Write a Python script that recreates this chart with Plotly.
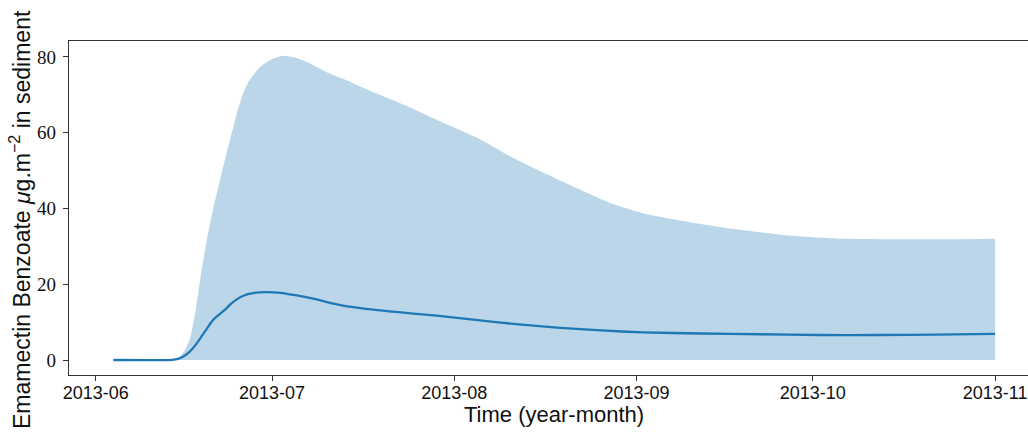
import plotly.graph_objects as go

# Upper bound of the sediment concentration envelope (lower bound is zero)
upper_dates = [
    "2013-06-04", "2013-06-14", "2013-06-15", "2013-06-16", "2013-06-17",
    "2013-06-18", "2013-06-19", "2013-06-20", "2013-06-21", "2013-06-22",
    "2013-06-23", "2013-06-24", "2013-06-25", "2013-06-26", "2013-06-27",
    "2013-06-29", "2013-07-01", "2013-07-03", "2013-07-05", "2013-07-07",
    "2013-07-10", "2013-07-13", "2013-07-16", "2013-07-19", "2013-07-24",
    "2013-07-30", "2013-08-05", "2013-08-10", "2013-08-16", "2013-08-22",
    "2013-08-28", "2013-09-03", "2013-09-10", "2013-09-18", "2013-09-26",
    "2013-10-05", "2013-10-15", "2013-10-25", "2013-11-01",
]
upper_vals = [
    0.0, 0.0, 0.4, 2.2, 5.5,
    13.0, 23.5, 32.5, 40.0, 46.5,
    53.0, 59.0, 65.0, 70.0, 73.5,
    77.4, 79.4, 80.3, 79.8, 78.6,
    76.2, 74.3, 72.2, 70.2, 67.0,
    62.7, 58.6, 54.2, 49.6, 45.3,
    41.2, 38.4, 36.4, 34.5, 33.0,
    32.1, 31.9, 31.9, 32.0,
]

# Mean sediment concentration
mean_dates = [
    "2013-06-04", "2013-06-14", "2013-06-15", "2013-06-16", "2013-06-17",
    "2013-06-18", "2013-06-19", "2013-06-20", "2013-06-21", "2013-06-22",
    "2013-06-23", "2013-06-24", "2013-06-25", "2013-06-26", "2013-06-28",
    "2013-06-30", "2013-07-02", "2013-07-05", "2013-07-08", "2013-07-12",
    "2013-07-16", "2013-07-22", "2013-07-29", "2013-08-05", "2013-08-12",
    "2013-08-19", "2013-08-26", "2013-09-02", "2013-09-12", "2013-09-22",
    "2013-10-02", "2013-10-12", "2013-10-22", "2013-11-01",
]
mean_vals = [
    0.0, 0.05, 0.3, 1.0, 2.2,
    4.0, 6.2, 8.5, 10.6, 12.0,
    13.3, 14.8, 16.0, 16.9, 17.7,
    17.9, 17.8, 17.1, 16.2, 14.7,
    13.7, 12.7, 11.7, 10.5, 9.4,
    8.5, 7.8, 7.3, 7.0, 6.8,
    6.6, 6.6, 6.7, 6.9,
]

x_tick_vals = ["2013-06-01", "2013-07-01", "2013-08-01",
               "2013-09-01", "2013-10-01", "2013-11-01"]
x_tick_text = ["2013-06", "2013-07", "2013-08", "2013-09", "2013-10", "2013-11"]
y_tick_vals = [0, 20, 40, 60, 80]

BLUE = "#1f77b4"
SANS = "Liberation Sans, Arial, sans-serif"
SERIF = "Liberation Serif, Times New Roman, serif"

fig = go.Figure()

fig.add_trace(go.Scatter(
    x=upper_dates, y=upper_vals,
    mode="lines",
    fill="tozeroy",
    fillcolor="rgba(31,119,180,0.3)",
    line=dict(width=0, shape="spline", smoothing=0.6, color="rgba(31,119,180,0)"),
    hoverinfo="skip",
    showlegend=False,
))

fig.add_trace(go.Scatter(
    x=mean_dates, y=mean_vals,
    mode="lines",
    line=dict(color=BLUE, width=2.3, shape="spline", smoothing=0.6),
    showlegend=False,
))

fig.update_layout(
    width=1028, height=432,
    margin=dict(l=69, r=0, t=41, b=57),
    paper_bgcolor="white",
    plot_bgcolor="white",
    showlegend=False,
    xaxis=dict(
        type="date",
        range=["2013-05-27 11:00", "2013-11-06 14:24"],
        tickmode="array",
        tickvals=x_tick_vals,
        ticktext=x_tick_text,
        ticks="outside", ticklen=5, tickwidth=1, tickcolor="#333",
        showgrid=False, zeroline=False,
        showline=True, linecolor="#333", linewidth=1.2, mirror=True,
        tickfont=dict(family=SANS, size=18, color="#111"),
        ticklabeloverflow="allow",
        ticklabelstandoff=-4,
    ),
    yaxis=dict(
        range=[-3.96, 84.22],
        tickmode="array",
        tickvals=y_tick_vals,
        ticks="outside", ticklen=5, tickwidth=1, tickcolor="#333",
        showgrid=False, zeroline=False,
        showline=True, linecolor="#333", linewidth=1.2,
        tickfont=dict(family=SERIF, size=19, color="#111"),
        ticklabelstandoff=3,
    ),
    annotations=[
        dict(
            text="Time (year-month)",
            xref="paper", yref="paper",
            x=(554 - 69) / 959, y=-(414 - 375) / 334,
            xanchor="center", yanchor="middle",
            showarrow=False,
            font=dict(family=SANS, size=22, color="#111"),
        ),
        dict(
            text="Emamectin Benzoate <i>μ</i>g.m<sup>−2</sup> in sediment",
            xref="paper", yref="paper",
            x=-(69 - 20) / 959, y=(375 - 220) / 334,
            xanchor="center", yanchor="middle",
            textangle=-90,
            showarrow=False,
            font=dict(family=SANS, size=23, color="#111"),
        ),
    ],
)

fig.write_html("out.html")
